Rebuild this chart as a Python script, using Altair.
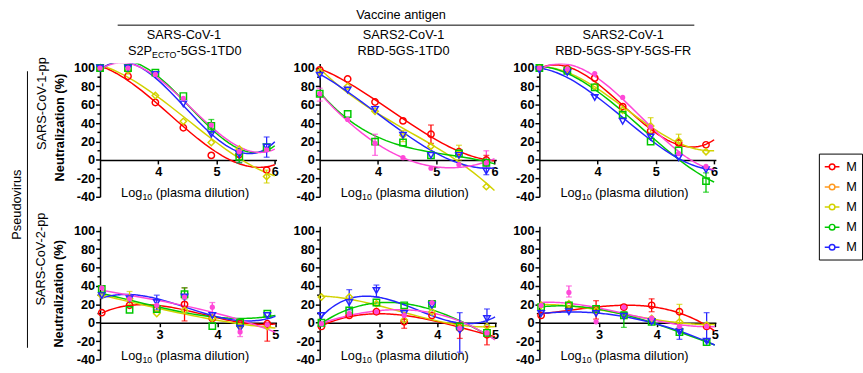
import altair as alt
import pandas as pd

# ---------------- data ----------------
X_TOP = [3.0, 3.48, 3.95, 4.43, 4.91, 5.39, 5.86]
X_BOTTOM = [2.0, 2.48, 2.95, 3.43, 3.91, 4.39, 4.86]

SERIES = ["Mouse 1", "Mouse 2", "Mouse 3", "Mouse 4", "Mouse 5", "Mouse 6"]
COLORS = ["#ff0000", "#ff9a1f", "#d2d200", "#00c800", "#2525ff", "#ff48d8"]
SHAPES = ["circle", "circle", "diamond", "square", "triangle-down", "circle"]
FILLED = [False, False, False, False, False, True]

# rows: pseudovirus (1 = SARS-CoV-1-pp, 2 = SARS-CoV-2-pp); columns: vaccine antigen
P11 = {
    "Mouse 1": [100, 91, 62.5, 35, 5, 6, -11],
    "Mouse 3": [100, 97, 70, 42, 19, 12, -18],
    "Mouse 4": [100, 100, 95, 69.5, 37, 3.5, 14],
    "Mouse 5": [100, 100, 93, 61, 28, 6, 14],
    "Mouse 6": [100, 100, 93, 67, 38, 9, 11],
}
P12 = {
    "Mouse 1": [98, 88, 63, 42.5, 28, 9, 0],
    "Mouse 3": [96, 80, 53, 27, 15, 7, -29],
    "Mouse 4": [72, 50, 20, 19, 5, 7, -3],
    "Mouse 5": [92, 76, 55, 27, 5, 5, -12],
    "Mouse 6": [72, 44, 18, 2.5, -9, -5, -3],
}
P13 = {
    "Mouse 1": [100, 99, 89, 58, 31.6, 18.6, 16.5],
    "Mouse 3": [100, 98, 80, 54, 37, 21, 9],
    "Mouse 4": [100, 97, 79, 49, 20, 10.5, -23],
    "Mouse 5": [98, 95, 68, 42, 25, 2.5, -10.6],
    "Mouse 6": [100, 99, 94, 68, 36, 7, -7],
}
P21 = {
    "Mouse 1": [11, 19, 15, 20, 4.6, -1, -1],
    "Mouse 3": [29.5, 26, 10, 13.5, 5, -4, -4],
    "Mouse 4": [36.7, 14, 15, 31, -3.6, 0, 10],
    "Mouse 5": [29.5, 26, 22, 28, 8, -6, 8],
    "Mouse 6": [38, 26, 19, 28, 17, -10, -2],
}
P22 = {
    "Mouse 1": [-4, 8, 12, 1, 8, -6, -13],
    "Mouse 3": [28, 28, 20.6, 3, 12, -6, -4],
    "Mouse 4": [0, 13.5, 22, 19, 20.6, -4, -11],
    "Mouse 5": [8, 22, 35, 10, 19, -8, 4.6],
    "Mouse 6": [-1, 10, 12, 8, 22, -6, -11],
}
P23 = {
    "Mouse 1": [8, 19, 13.5, 17, 19, 12, -4],
    "Mouse 3": [19, 20.6, 13.5, 8, 4.6, 1, -2.5],
    "Mouse 4": [17, 19, 15, 8, 1, -10, -21],
    "Mouse 5": [10, 12, 10, 7, 1, -10, -20],
    "Mouse 6": [19, 33, 1, 17, 5, -4, -4],
}
PANELS = {"11": P11, "12": P12, "13": P13, "21": P21, "22": P22, "23": P23}

# error bars: (panel, series, dilution index, low, high)
ERRORS = [
    ("11", "Mouse 3", 6, -25, -11), ("11", "Mouse 4", 4, 30, 44), ("11", "Mouse 5", 6, 3, 25),
    ("11", "Mouse 5", 5, -3, 12), ("11", "Mouse 4", 5, -3, 10),
    ("12", "Mouse 1", 4, 18, 38), ("12", "Mouse 6", 2, 5, 28), ("12", "Mouse 6", 0, 64, 78),
    ("12", "Mouse 3", 3, 20, 32), ("12", "Mouse 1", 6, -5, 5), ("12", "Mouse 3", 5, 0, 16),
    ("12", "Mouse 6", 6, -8, 10), ("12", "Mouse 5", 6, -16, -6),
    ("13", "Mouse 3", 4, 30, 46), ("13", "Mouse 3", 5, 14, 28), ("13", "Mouse 4", 6, -35, -14),
    ("21", "Mouse 1", 3, 2, 38), ("21", "Mouse 4", 3, 26, 38), ("21", "Mouse 3", 1, 20, 34),
    ("21", "Mouse 5", 2, 14, 30), ("21", "Mouse 6", 4, 8, 22), ("21", "Mouse 6", 5, -15, -4),
    ("21", "Mouse 1", 6, -20, 0),
    ("22", "Mouse 5", 1, 14, 36), ("22", "Mouse 5", 2, 28, 41), ("22", "Mouse 5", 5, -32, 11),
    ("22", "Mouse 5", 6, -2, 15), ("22", "Mouse 1", 5, -17, 0), ("22", "Mouse 1", 6, -24, -4),
    ("22", "Mouse 1", 3, -6, 8),
    ("23", "Mouse 6", 1, 28, 40), ("23", "Mouse 1", 2, 4, 24), ("23", "Mouse 1", 4, 12, 26),
    ("23", "Mouse 3", 5, 0, 20), ("23", "Mouse 5", 5, -18, -5), ("23", "Mouse 5", 6, -20, 11),
    ("23", "Mouse 4", 3, -5, 12),
]

Y_MAJOR = [-40, -20, 0, 20, 40, 60, 80, 100]
Y_MINOR = [-30, -10, 10, 30, 50, 70, 90]

HEAD_1 = ["SARS-CoV-1", "SARS2-CoV-1", "SARS2-CoV-1"]
HEAD_2 = [None, "RBD-5GS-1TD0", "RBD-5GS-SPY-5GS-FR"]
ROW_LABELS = ["SARS-CoV-1-pp", "SARS-CoV-2-pp"]

# ---------------- tables ----------------
rows = []
for pid, vals in PANELS.items():
    xs = X_TOP if pid[0] == "1" else X_BOTTOM
    for s, ys in vals.items():
        for x, y in zip(xs, ys):
            rows.append({"panel": pid, "series": s, "x": x, "y": y})
df = pd.DataFrame(rows)

erows = []
for pid, s, i, lo, hi in ERRORS:
    xs = X_TOP if pid[0] == "1" else X_BOTTOM
    erows.append({"panel": pid, "series": s, "x": xs[i], "lo": lo, "hi": hi})
edf = pd.DataFrame(erows)
minor_df = pd.DataFrame({"y": Y_MINOR})

# ---------------- styling ----------------
FONT = "Liberation Sans"
W, H = 180, 136
YDOM = [-40, 105]
Y0 = H * YDOM[1] / (YDOM[1] - YDOM[0])  # pixel row of y = 0

# line - open circle - line (circle traced both ways so it stays unfilled)
SYM = ("M-1,0L-0.38,0M0.38,0L1,0"
       "M-0.38,0A0.38,0.38,0,1,1,0.38,0A0.38,0.38,0,1,1,-0.38,0Z"
       "M-0.38,0A0.38,0.38,0,1,0,0.38,0A0.38,0.38,0,1,0,-0.38,0Z")
LEGEND = alt.Legend(
    title=None, values=SERIES[:5], orient="none", legendX=733, legendY=92,
    symbolType=SYM, symbolSize=225, symbolStrokeWidth=1.5, symbolFillColor="white",
    labelFont=FONT, labelFontSize=13, labelColor="black", labelOffset=6,
    labelExpr="slice(datum.label, 0, 1)",
    strokeColor="black", fillColor="white", padding=5, rowPadding=4.5,
)
color_scale = alt.Scale(domain=SERIES, range=COLORS)


def text(t, x, y, size=13, weight="normal", angle=0, align="center", baseline="middle"):
    return alt.Chart(pd.DataFrame({"t": [t]})).mark_text(
        font=FONT, fontSize=size, fontWeight=weight, angle=angle, align=align,
        baseline=baseline, color="black",
    ).encode(text="t:N", x=alt.value(x), y=alt.value(y))


def hline(x1, x2, y):
    return alt.Chart(pd.DataFrame({"t": [0]})).mark_rule(color="black", strokeWidth=1).encode(
        x=alt.value(x1), x2=alt.value(x2), y=alt.value(y))


def vline(x, y1, y2):
    return alt.Chart(pd.DataFrame({"t": [0]})).mark_rule(color="black", strokeWidth=1).encode(
        x=alt.value(x), y=alt.value(y1), y2=alt.value(y2))


def panel(r, c):
    pid = f"{r}{c}"
    d = df[df.panel == pid]
    e = edf[edf.panel == pid]
    top = r == 1
    xdom = [3.0, 6.03] if top else [1.97, 5.02]
    ext = [3.0, 6.0] if top else [2.0, 5.0]
    xvals = [4, 5, 6] if top else [3, 4, 5]

    xaxis = alt.Axis(values=xvals, title=None, offset=-(H - Y0), tickSize=4, labelPadding=2,
                     labelFlush=False, format="d", domain=True, ticks=True)
    yaxis = alt.Axis(values=Y_MAJOR, title=None, labelFlush=False, labelOverlap=False,
                     labelPadding=1, tickSize=4.5, domain=True, ticks=True,
                     labelExpr="'' + datum.value")
    xsc = alt.Scale(domain=xdom, nice=False, zero=False)
    ysc = alt.Scale(domain=YDOM, nice=False, zero=False)
    X = alt.X("x:Q", scale=xsc, axis=xaxis)
    Y = alt.Y("y:Q", scale=ysc, axis=yaxis)
    Ylo = alt.Y("lo:Q", scale=ysc, axis=yaxis)
    Yhi = alt.Y("hi:Q", scale=ysc, axis=yaxis)

    curves = alt.Chart(d).transform_regression(
        "x", "y", groupby=["series"], method="poly", order=3, extent=ext
    ).mark_line(strokeWidth=1.5, clip=True).encode(
        x=X, y=Y, color=alt.Color("series:N", scale=color_scale, legend=LEGEND))

    Cn = alt.Color("series:N", scale=color_scale, legend=None)
    bars = alt.Chart(e).mark_rule(strokeWidth=1.3).encode(x=X, y=Ylo, y2="hi:Q", color=Cn)
    caps_hi = alt.Chart(e).mark_tick(orient="horizontal", size=6, thickness=1.3).encode(
        x=X, y=Yhi, color=Cn)
    caps_lo = alt.Chart(e).mark_tick(orient="horizontal", size=6, thickness=1.3).encode(
        x=X, y=Ylo, color=Cn)

    minor = alt.Chart(minor_df).mark_rule(color="black", strokeWidth=1.5).encode(
        x=alt.value(-2.6), x2=alt.value(0), y=Y)

    layers = [minor, curves, bars, caps_hi, caps_lo]
    for s, col, shp, fl in zip(SERIES, COLORS, SHAPES, FILLED):
        ds = d[d.series == s]
        if len(ds) == 0:
            continue
        if fl:
            mk = alt.Chart(ds).mark_point(filled=True, size=28, opacity=1, color=col, shape=shp)
        else:
            mk = alt.Chart(ds).mark_point(filled=False, size=42, strokeWidth=1.5, opacity=1,
                                          color=col, shape=shp)
        layers.append(mk.encode(x=X, y=Y))

    # x-axis title: Log10 (plasma dilution)
    layers += [
        text("Log", 21.5, 132.5, align="left"),
        text("10", 43.2, 136, size=9, align="left"),
        text("(plasma dilution)", 56.8, 132.5, align="left"),
    ]
    # column headings on top row
    if top:
        layers.append(text(HEAD_1[c - 1], 85.5, -29))
        if c == 1:
            layers += [
                text("S2P", 53, -13, align="right"),
                text("ECTO", 53, -8.5, size=9, align="left"),
                text("-5GS-1TD0", 78, -13, align="left"),
            ]
        else:
            layers.append(text(HEAD_2[c - 1], 85.5, -12.5))
    # row labels on first column
    if c == 1:
        if top:
            layers += [
                text(ROW_LABELS[0], -59, 41, angle=270),
                text("Neutralization (%)", -40.5, 65.5, weight="bold", angle=270),
                text("Vaccine antigen", 307, -49.3),
                hline(18, 606, -39),
                text("Pseudovirus", -85, 144, angle=270),
                vline(-74, 8, 290),
            ]
        else:
            layers += [
                text(ROW_LABELS[1], -60, 33.5, angle=270),
                text("Neutralization (%)", -41.5, 69, weight="bold", angle=270),
            ]
    return alt.layer(*layers).properties(width=W, height=H)


chart = alt.concat(
    panel(1, 1), panel(1, 2), panel(1, 3), panel(2, 1), panel(2, 2), panel(2, 3),
    columns=3, spacing={"row": 30, "column": 44}, bounds="flush",
).properties(
    padding={"left": 11, "top": 5, "right": 0, "bottom": 0}, background="white"
).configure_view(stroke=None).configure_axis(
    grid=False, domainColor="black", tickColor="black", domainWidth=1.5, tickWidth=1.5,
    labelFont=FONT, labelFontSize=13, labelFontWeight="bold", labelColor="black",
)

chart.save("out.html", embed_options={"renderer": "svg", "actions": False})
